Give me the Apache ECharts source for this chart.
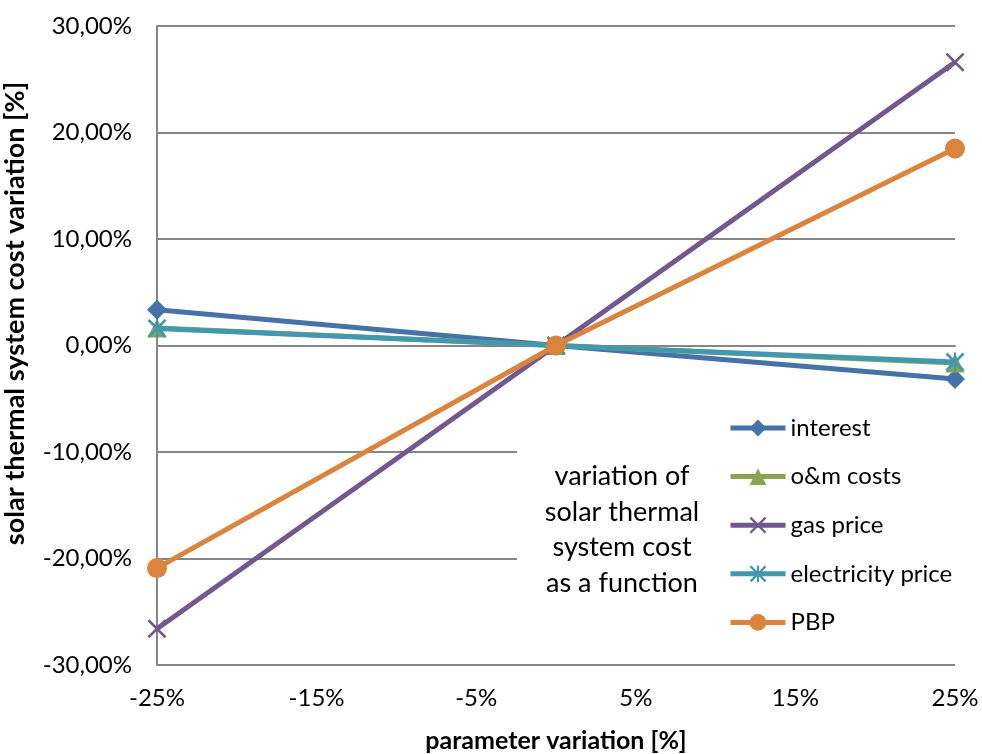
<!DOCTYPE html>
<html>
<head>
<meta charset="utf-8">
<script src="https://cdn.jsdelivr.net/npm/echarts@6/dist/echarts.min.js"></script>
<style>
  html, body { margin: 0; padding: 0; background: #fff; }
  #chart { width: 982px; height: 754px; }
</style>
</head>
<body>
<div id="chart"></div>
<script>
// Parameter variation (x, in %) at which each sensitivity was evaluated
const paramVariation = [-25, 0, 25];

// Resulting solar thermal system cost variation (in %)
const interest = [3.35, 0, -3.15];
const omCosts = [1.65, 0, -1.65];
const gasPrice = [-26.6, 0, 26.6];
const electricityPrice = [1.6, 0, -1.55];
const pbp = [-20.9, 0, 18.5];

const seriesNames = ['interest', 'o&m costs', 'gas price', 'electricity price', 'PBP'];
const seriesValues = [interest, omCosts, gasPrice, electricityPrice, pbp];
const seriesColors = ['#4572a7', '#89a54e', '#71588f', '#4198af', '#db843d'];

// x tick labels shown on the axis
const xTickLabels = [-25, -15, -5, 5, 15, 25];

const FONT = 'Lato';

// thin-stroke markers built as filled paths
const crossPath = 'path://M0,1 L1,0 L10,9 L9,10 Z M9,0 L10,1 L1,10 L0,9 Z';
const starPath = 'path://M0,1 L1,0 L10,9 L9,10 Z M9,0 L10,1 L1,10 L0,9 Z M4.4,0 L5.6,0 L5.6,10 L4.4,10 Z';
const symbols = ['diamond', 'triangle', crossPath, starPath, 'circle'];
const symbolSizes = [20, 19, 19, 19, 20];

const chart = echarts.init(document.getElementById('chart'));

const series = seriesNames.map((name, i) => ({
  name: name,
  type: 'line',
  data: paramVariation.map((x, k) => [x, seriesValues[i][k]]),
  symbol: symbols[i],
  symbolSize: symbolSizes[i],
  showAllSymbol: true,
  lineStyle: { width: 5, color: seriesColors[i] },
  itemStyle: { color: seriesColors[i] },
  emphasis: { disabled: true },
  z: 2 + i
}));

chart.setOption({
  animation: false,
  textStyle: { fontFamily: FONT },
  grid: { left: 157, right: 27, top: 26, bottom: 89, containLabel: false, outerBoundsMode: 'none' },
  xAxis: {
    type: 'value',
    min: -25,
    max: 25,
    interval: 5,
    name: 'parameter variation [%]',
    nameLocation: 'middle',
    nameGap: 63,
    nameTextStyle: { fontFamily: FONT, fontSize: 25, fontWeight: 'bold', color: '#000' },
    axisLine: { show: true, lineStyle: { color: '#868686', width: 2 } },
    axisTick: { show: false },
    splitLine: { show: false },
    axisLabel: {
      fontFamily: FONT,
      fontSize: 24,
      color: '#000',
      margin: 21,
      formatter: v => (xTickLabels.indexOf(v) >= 0 ? v + '%' : '')
    }
  },
  yAxis: {
    type: 'value',
    min: -30,
    max: 30,
    interval: 10,
    name: 'solar thermal system cost variation [%]',
    nameLocation: 'middle',
    nameGap: 128,
    nameTextStyle: { fontFamily: FONT, fontSize: 27, fontWeight: 'bold', color: '#000', padding: [0, 0, 0, 64] },
    axisLine: { show: true, onZero: false, lineStyle: { color: '#868686', width: 2 } },
    axisTick: { show: false },
    splitLine: { show: true, lineStyle: { color: '#868686', width: 2 } },
    axisLabel: {
      fontFamily: FONT,
      fontSize: 24,
      color: '#000',
      margin: 25,
      formatter: v => v.toFixed(2).replace('.', ',') + '%'
    }
  },
  legend: {
    orient: 'vertical',
    left: 728,
    top: 416,
    itemWidth: 55,
    itemHeight: 21,
    itemGap: 24.6,
    padding: 0,
    lineStyle: { width: 5 },
    textStyle: { fontFamily: FONT, fontSize: 24, color: '#000' },
    data: seriesNames,
    selectedMode: false
  },
  graphic: [
    {
      type: 'rect',
      z: 1,
      shape: { x: 517, y: 395, width: 445, height: 255 },
      style: { fill: '#fff' },
      silent: true
    },
    {
      type: 'text',
      z: 3,
      x: 622,
      y: 530,
      style: {
        text: 'variation of\nsolar thermal\nsystem cost\nas a function',
        align: 'center',
        verticalAlign: 'middle',
        font: '27px ' + FONT,
        lineHeight: 35.5,
        fill: '#000'
      },
      silent: true
    }
  ],
  series: series
});
</script>
</body>
</html>
